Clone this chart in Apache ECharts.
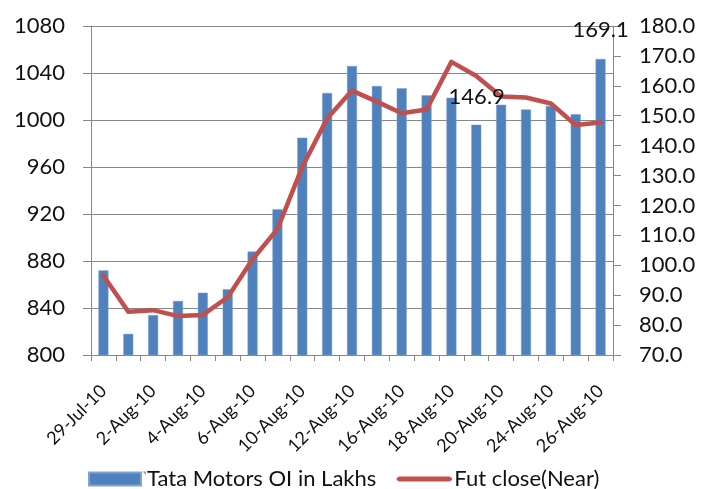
<!DOCTYPE html>
<html>
<head>
<meta charset="utf-8">
<script src="https://cdn.jsdelivr.net/npm/echarts@6/dist/echarts.min.js"></script>
<style>
html,body{margin:0;padding:0;background:#fff;}
#chart{width:718px;height:489px;}
</style>
</head>
<body>
<div id="chart"></div>
<script>
var categories = ['29-Jul-10','30-Jul-10','2-Aug-10','3-Aug-10','4-Aug-10','5-Aug-10','6-Aug-10','9-Aug-10','10-Aug-10','11-Aug-10','12-Aug-10','13-Aug-10','16-Aug-10','17-Aug-10','18-Aug-10','19-Aug-10','20-Aug-10','23-Aug-10','24-Aug-10','25-Aug-10','26-Aug-10'];
var oiValues = [872, 818, 834, 846, 853, 856, 888, 924, 985, 1023, 1046, 1029, 1027, 1021, 1019, 996, 1013, 1009, 1012, 1005, 1052];
var futClose = [96.5, 84.5, 85.0, 83.0, 83.4, 89.3, 102.0, 112.1, 132.9, 149.1, 158.4, 154.7, 150.8, 152.1, 168.0, 163.3, 156.4, 156.1, 154.1, 146.9, 147.7];
var leftTicks = {min: 800, max: 1080, interval: 40};
var rightTicks = {min: 70, max: 180, interval: 10};
var annotationBarText = '169.1';
var annotationLineText = '146.9';
var annotationLineIndex = 19;
var seriesNames = ['Tata Motors OI in Lakhs', 'Fut close(Near)'];

var FONT = 'Lato';
var gray = '#878787';
var lineIcon = 'path://M0,0 L0.05,0 L0,0.05 Z M3,4 L53,4 L55,5 L56,6.5 L55,8 L53,9 L3,9 L1,8 L0,6.5 L1,5 Z M56,13 L55.95,13 L56,12.95 Z';

var barData = oiValues.map(function (v, i) {
  if (i === oiValues.length - 1) {
    return {value: v, label: {show: true, position: 'top', formatter: annotationBarText,
      offset: [0, -13], fontSize: 22, color: '#111', fontFamily: FONT}};
  }
  return v;
});

var chart = echarts.init(document.getElementById('chart'), null, {renderer: 'canvas'});
chart.setOption({
  animation: false,
  backgroundColor: '#fff',
  grid: {left: 91, right: 105, top: 26, bottom: 134, containLabel: false},
  legend: {
    left: 83, top: 463,
    itemWidth: 56, itemHeight: 13, itemGap: 20,
    textStyle: {fontFamily: FONT, fontSize: 22, color: '#111', padding: [0, 0, 0, -3]},
    data: [
      {name: seriesNames[0], icon: 'path://M0,0 L52,0 L52,13 L0,13 Z M56,0 L55.95,0 L56,0.05 Z'},
      {name: seriesNames[1], icon: lineIcon, itemStyle: {color: '#C0504D'}}
    ]
  },
  xAxis: {
    type: 'category',
    data: categories,
    boundaryGap: true,
    axisLine: {show: true, lineStyle: {color: gray, width: 1}},
    axisTick: {show: true, interval: 0, length: 6, lineStyle: {color: gray}},
    axisLabel: {interval: 1, rotate: 45, margin: 33, fontFamily: FONT, fontSize: 18, color: '#111'},
    splitLine: {show: false}
  },
  yAxis: [
    {
      type: 'value', position: 'left',
      min: leftTicks.min, max: leftTicks.max, interval: leftTicks.interval,
      axisLine: {show: true, lineStyle: {color: gray, width: 1}},
      axisTick: {show: true, length: 8, lineStyle: {color: gray}},
      axisLabel: {margin: 26, fontFamily: FONT, fontSize: 22, color: '#111',
        formatter: function (v) { return String(v); }},
      splitLine: {show: true, lineStyle: {color: gray, width: 1}}
    },
    {
      type: 'value', position: 'right',
      min: rightTicks.min, max: rightTicks.max, interval: rightTicks.interval,
      axisLine: {show: true, lineStyle: {color: gray, width: 1}},
      axisTick: {show: true, length: 8, lineStyle: {color: gray}},
      axisLabel: {margin: 26, fontFamily: FONT, fontSize: 22, color: '#111',
        formatter: function (v) { return v.toFixed(1); }},
      splitLine: {show: false}
    }
  ],
  series: [
    {
      name: seriesNames[0], type: 'bar', yAxisIndex: 0,
      data: barData, barWidth: 10,
      itemStyle: {color: '#4F81BD', borderColor: '#7fa3d1', borderWidth: 0.5}
    },
    {
      name: seriesNames[1], type: 'line', yAxisIndex: 1,
      data: futClose, symbol: 'none', smooth: false,
      lineStyle: {color: '#C0504D', width: 4.5, cap: 'round', join: 'round'},
      itemStyle: {color: '#C0504D'},
      z: 3,
      markPoint: {
        symbol: 'circle', symbolSize: 1,
        itemStyle: {color: 'rgba(0,0,0,0)'},
        label: {show: true, position: 'top', formatter: annotationLineText,
          offset: [-99, -12], fontSize: 22, color: '#111', fontFamily: FONT},
        data: [{coord: [annotationLineIndex, futClose[annotationLineIndex]]}]
      }
    }
  ]
});
</script>
</body>
</html>
